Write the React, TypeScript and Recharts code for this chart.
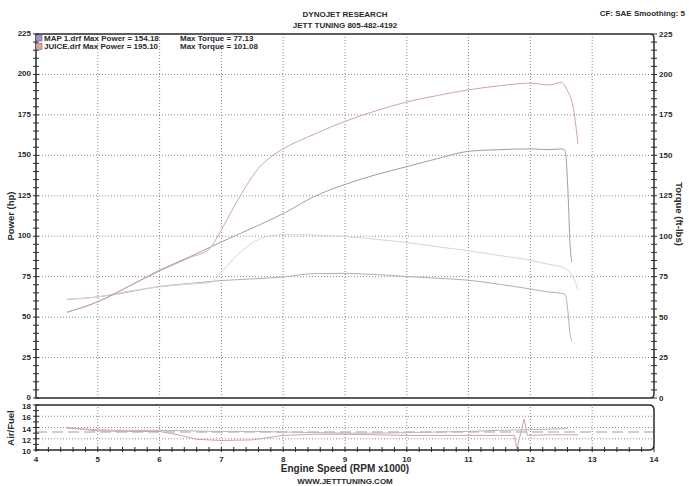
import { LineChart, Line, XAxis, YAxis, ReferenceLine } from 'recharts'

// run 1: MAP 1.drf
const mapRpm = [4.5, 5.0, 5.5, 6.0, 6.5, 7.0, 7.5, 8.0, 8.5, 9.0, 9.5, 10.0, 10.5, 11.0, 11.5, 12.0, 12.3, 12.5, 12.56, 12.61, 12.64, 12.67]
const mapPower = [53, 59.5, 69, 79, 87.5, 96.5, 105, 114, 124.5, 132, 138, 143, 148, 152.5, 153.5, 154, 153.5, 154, 153, 126, 96, 84]
const mapTorque = [61, 62.5, 65.5, 69, 70.8, 72.6, 73.6, 74.8, 76.9, 77, 76.3, 75.1, 74, 72.8, 70.3, 67.4, 65.5, 64.7, 64, 52.5, 40, 35]

// run 2: JUICE.drf
const juiceRpm = [4.5, 5.0, 5.5, 6.0, 6.5, 6.8, 7.0, 7.2, 7.4, 7.6, 7.8, 8.0, 8.5, 9.0, 9.5, 10.0, 10.5, 11.0, 11.5, 12.0, 12.3, 12.5, 12.6, 12.7, 12.77]
const juicePower = [53, 59.5, 69, 78.5, 87, 92, 104, 118, 131, 142, 149, 154, 163, 171, 177.5, 183, 187, 190.5, 193, 194.6, 193.5, 195, 190, 178, 157]
const juiceTorque = [61, 62.5, 66, 68.7, 70.5, 71.2, 78, 86, 93, 98, 100.3, 101, 100.7, 99.8, 98.1, 96.1, 93.5, 91, 88.1, 85.2, 82.6, 81, 79, 74, 67]

// air / fuel
const mapAfRpm = [4.5, 5.0, 5.5, 6.0, 6.5, 7.0, 7.5, 8.0, 8.5, 9.0, 9.5, 10.0, 10.5, 11.0, 11.5, 12.0, 12.6]
const mapAf = [13.9, 13.6, 13.5, 13.5, 13.4, 13.3, 13.3, 13.2, 13.1, 13.0, 13.0, 13.1, 13.2, 13.3, 13.5, 13.6, 13.8]
const juiceAfRpm = [4.5, 5.0, 5.5, 6.0, 6.3, 6.6, 7.0, 7.5, 8.0, 8.5, 9.0, 9.5, 10.0, 10.5, 11.0, 11.5, 11.74, 11.78, 11.9, 11.95, 12.3, 12.77]
const juiceAf = [14.0, 13.4, 13.3, 13.3, 12.7, 11.9, 11.7, 11.8, 12.6, 12.8, 12.8, 12.7, 12.6, 12.6, 12.6, 12.6, 12.6, 10.2, 15.5, 12.6, 12.7, 12.7]
const afTarget = 13.2

const runNames = ['MAP 1.drf', 'JUICE.drf']
const runMaxPower = ['154.18', '195.10']
const runMaxTorque = ['77.13', '101.08']
const runSwatch = ['#9a9ad0', '#e8a0a0']

const rpmTicks = [4, 5, 6, 7, 8, 9, 10, 11, 12, 13, 14]
const rpmMinor = Array.from({ length: 51 }, (_, i) => +(4 + i * 0.2).toFixed(1))
const powerTicks = Array.from({ length: 46 }, (_, i) => i * 5)
const powerGrid = [25, 50, 75, 100, 125, 150, 175, 200]
const afTicks = [10, 11, 12, 13, 14, 15, 16, 17, 18]
const afGrid = [12, 14, 16]

const FONT = '"Liberation Sans", Arial, sans-serif'
const INK = '#2a2a2a'
const GRID = '#8a8a8a'

const toRows = (rpm: number[], vals: number[]) => rpm.map((r, i) => ({ rpm: r, v: vals[i] }))

const isMajor = (v: number, step: number) => Math.abs(v / step - Math.round(v / step)) < 1e-6

function LeftTick(props: any) {
  const { x, y, payload, step, dy } = props
  const major = isMajor(payload.value, step)
  return (
    <g>
      <line x1={x - 3} x2={x + 3} y1={y} y2={y} stroke={INK} strokeWidth={1} />
      {major && (
        <text x={x - 5} y={y + dy} textAnchor="end" fontSize={8} fontWeight="bold" fontFamily={FONT} fill={INK}>
          {payload.value}
        </text>
      )}
    </g>
  )
}

function RightTick(props: any) {
  const { x, y, payload } = props
  const major = isMajor(payload.value, 25)
  return (
    <g>
      <line x1={x - 3} x2={x + 3} y1={y} y2={y} stroke={INK} strokeWidth={1} />
      {major && (
        <text x={x + 5} y={y + 2.5} textAnchor="start" fontSize={8} fontWeight="bold" fontFamily={FONT} fill={INK}>
          {payload.value}
        </text>
      )}
    </g>
  )
}

function BottomTick(props: any) {
  const { x, y, payload } = props
  const major = isMajor(payload.value, 1)
  return (
    <g>
      <line x1={x} x2={x} y1={y - 3} y2={y + 2} stroke={INK} strokeWidth={1} />
      {major && (
        <text x={x} y={y + 12} textAnchor="middle" fontSize={8} fontWeight="bold" fontFamily={FONT} fill={INK}>
          {Math.round(payload.value)}
        </text>
      )}
    </g>
  )
}

const txt = { fontFamily: FONT, fontWeight: 'bold' as const, fill: INK }

export default function App() {
  return (
    <div style={{ position: 'absolute', left: 0, top: 0, width: 689, height: 486, background: '#fff', overflow: 'hidden' }}>
      <div style={{ position: 'absolute', left: 0, top: 0 }}>
        <LineChart width={689} height={410} margin={{ top: 34, right: 0, bottom: 12, left: 0 }}>
          <XAxis xAxisId="x" type="number" dataKey="rpm" domain={[4, 14]} ticks={rpmTicks} hide allowDataOverflow />
          <YAxis yAxisId="left" type="number" domain={[0, 225]} ticks={powerTicks} interval={0} width={36}
            axisLine={false} tickLine={false} tickSize={0} tickMargin={0} tick={<LeftTick step={25} dy={2} />} />
          <YAxis yAxisId="right" orientation="right" type="number" domain={[0, 225]} ticks={powerTicks} interval={0} width={35}
            axisLine={false} tickLine={false} tickSize={0} tickMargin={0} tick={<RightTick />} />
          {powerGrid.map((v) => (
            <ReferenceLine key={'h' + v} xAxisId="x" yAxisId="left" y={v} stroke={GRID} strokeDasharray="1 2" strokeWidth={1} />
          ))}
          {rpmTicks.slice(1, -1).map((v) => (
            <ReferenceLine key={'v' + v} xAxisId="x" yAxisId="left" x={v} stroke={GRID} strokeDasharray="1 2" strokeWidth={1} />
          ))}
          <Line xAxisId="x" yAxisId="right" data={toRows(mapRpm, mapTorque)} dataKey="v" type="monotone" stroke="#b0acc2" strokeWidth={1} dot={false} isAnimationActive={false} />
          <Line xAxisId="x" yAxisId="right" data={toRows(juiceRpm, juiceTorque)} dataKey="v" type="monotone" stroke="#e6cdd2" strokeWidth={1} dot={false} isAnimationActive={false} />
          <Line xAxisId="x" yAxisId="left" data={toRows(mapRpm, mapPower)} dataKey="v" type="monotone" stroke="#a09cb2" strokeWidth={1} dot={false} isAnimationActive={false} />
          <Line xAxisId="x" yAxisId="left" data={toRows(juiceRpm, juicePower)} dataKey="v" type="monotone" stroke="#cca5ac" strokeWidth={1} dot={false} isAnimationActive={false} />
        </LineChart>
      </div>

      <div style={{ position: 'absolute', left: 0, top: 390 }}>
        <LineChart width={689} height={90} margin={{ top: 15, right: 35, bottom: 0, left: 0 }}>
          <XAxis xAxisId="x" type="number" dataKey="rpm" domain={[4, 14]} ticks={rpmMinor} interval={0} height={30}
            axisLine={false} tickLine={false} tickSize={0} tickMargin={0} tick={<BottomTick />} allowDataOverflow />
          <YAxis yAxisId="af" type="number" domain={[10, 18]} ticks={afTicks} interval={0} width={36}
            axisLine={false} tickLine={false} tickSize={0} tickMargin={0} tick={<LeftTick step={2} dy={4} />} allowDataOverflow />
          {afGrid.map((v) => (
            <ReferenceLine key={'h' + v} xAxisId="x" yAxisId="af" y={v} stroke={GRID} strokeDasharray="1 2" strokeWidth={1} />
          ))}
          {rpmTicks.slice(1, -1).map((v) => (
            <ReferenceLine key={'v' + v} xAxisId="x" yAxisId="af" x={v} stroke={GRID} strokeDasharray="1 2" strokeWidth={1} />
          ))}
          <ReferenceLine xAxisId="x" yAxisId="af" y={afTarget} stroke="#cfcfcf" strokeDasharray="11 5" strokeWidth={2} />
          <Line xAxisId="x" yAxisId="af" data={toRows(mapAfRpm, mapAf)} dataKey="v" type="monotone" stroke="#b4b4cc" strokeWidth={1} dot={false} isAnimationActive={false} />
          <Line xAxisId="x" yAxisId="af" data={toRows(juiceAfRpm, juiceAf)} dataKey="v" type="linear" stroke="#cfa2a9" strokeWidth={1} dot={false} isAnimationActive={false} />
        </LineChart>
      </div>

      <svg width={689} height={486} style={{ position: 'absolute', left: 0, top: 0, pointerEvents: 'none' }}>
        <path d="M36,34 H650 Q654,34 654,38 V394 Q654,398 650,398 H36 Z" fill="none" stroke={INK} strokeWidth={1.5} />
        <path d="M36,405 H649 Q654,405 654,410 V445 Q654,450 649,450 H36 Z" fill="none" stroke={INK} strokeWidth={1.5} />

        <text x={345} y={17} textAnchor="middle" fontSize={8} {...txt}>DYNOJET RESEARCH</text>
        <text x={345} y={28} textAnchor="middle" fontSize={8} {...txt}>JETT TUNING 805-482-4192</text>
        <text x={685} y={16} textAnchor="end" fontSize={8} {...txt}>CF: SAE  Smoothing: 5</text>

        {runNames.map((name, i) => (
          <g key={name}>
            <rect x={36} y={35 + i * 8.5} width={6} height={6} fill={runSwatch[i]} stroke="#666" strokeWidth={0.6} />
            <text x={44} y={40.5 + i * 8.5} fontSize={8} {...txt}>{`${name} Max Power = ${runMaxPower[i]}`}</text>
            <text x={180} y={40.5 + i * 8.5} fontSize={8} {...txt}>{`Max Torque = ${runMaxTorque[i]}`}</text>
          </g>
        ))}

        <text x={14} y={216} textAnchor="middle" fontSize={9.5} transform="rotate(-90 14 216)" {...txt}>Power (hp)</text>
        <text x={676} y={214} textAnchor="middle" fontSize={9.5} transform="rotate(90 676 214)" {...txt}>Torque (ft-lbs)</text>
        <text x={14} y={428} textAnchor="middle" fontSize={9.5} transform="rotate(-90 14 428)" {...txt}>Air/Fuel</text>
        <text x={345} y={472} textAnchor="middle" fontSize={10} {...txt}>Engine Speed (RPM x1000)</text>
        <text x={345} y={484} textAnchor="middle" fontSize={8} {...txt}>WWW.JETTTUNING.COM</text>
      </svg>
    </div>
  )
}
